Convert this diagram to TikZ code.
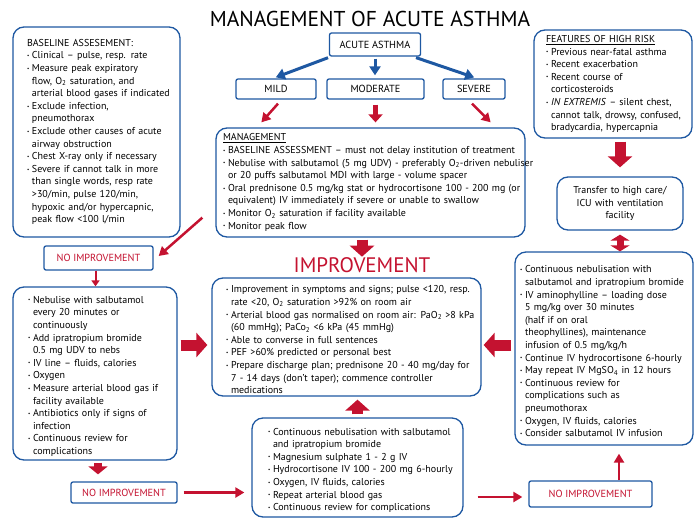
\documentclass[tikz,border=0pt]{standalone}
\usepackage{fontspec}
\setmainfont{PT Sans}
\usepackage{graphicx}
\usetikzlibrary{arrows.meta,positioning,calc}

\definecolor{asblue}{RGB}{30,88,162}
\definecolor{asred}{RGB}{196,18,48}

% bullet item with hanging indent
\newcommand{\itm}{\par\rightskip=-30pt plus 1fil\hangindent=5pt\hangafter=1\noindent\makebox[5pt][l]{\raisebox{0.25ex}{\scalebox{0.5}{\textbullet}}}}

\begin{document}
\begin{tikzpicture}[x=1pt, y=-1pt,
    bigbox/.style={draw=asblue, line width=1.3pt, rounded corners=11pt, fill=white,
                   align=left, font=\fontsize{10}{12.6}\selectfont, inner ysep=0pt},
    smallbox/.style={draw=asblue, line width=1.3pt, rounded corners=2pt, fill=white,
                     align=center, font=\fontsize{10.3}{11}\selectfont, inner sep=0pt},
    noimp/.style={smallbox, text=asred},
    barrow/.style={draw=asblue, line width=3pt, -{Triangle[length=9pt,width=11pt]}},
    rarrow/.style={draw=asred, line width=2.5pt, -{Triangle[length=9pt,width=10pt]}},
    fatarrow/.style={draw=asred, line width=11pt, -{Triangle[length=11pt,width=24pt]}},
  ]
\useasboundingbox (0,0) rectangle (700,525);

% --- title and severity ---
\node[font=\fontsize{21.5}{24}\selectfont] (title) at (370,19) {MANAGEMENT OF ACUTE ASTHMA};

\node[smallbox, minimum width=91pt, minimum height=23pt] (acute) at (375,44.5) {ACUTE ASTHMA};
\node[smallbox, minimum width=80pt, minimum height=20pt] (mild) at (276,89) {MILD};
\node[smallbox, minimum width=97pt, minimum height=20pt] (moderate) at (375.5,89) {MODERATE};
\node[smallbox, minimum width=62pt, minimum height=20pt] (severe) at (474,89) {SEVERE};

% --- baseline (top left) ---
\node[bigbox, minimum width=167pt, minimum height=210pt, text width=139pt, inner xsep=14pt] (baseline) at (96.5,132)
  {BASELINE ASSESEMENT:
   \itm Clinical \textendash\ pulse, resp. rate
   \itm Measure peak expiratory\newline flow, O\textsubscript{2} saturation, and\newline arterial blood gases if indicated
   \itm Exclude infection,\newline pneumothorax
   \itm Exclude other causes of acute\newline airway obstruction
   \itm Chest X-ray only if necessary
   \itm Severe if cannot talk in more\newline than single words, resp rate\newline >30/min, pulse 120/min,\newline hypoxic and/or hypercapnic,\newline peak flow <100 l/min\par};

% --- high risk (top right) ---
\node[bigbox, minimum width=158pt, minimum height=108pt, text width=134pt, inner xsep=12pt] (highrisk) at (613,84)
  {\underline{FEATURES OF HIGH RISK}
   \itm Previous near-fatal asthma
   \itm Recent exacerbation
   \itm Recent course of\newline corticosteroids
   \itm \textit{IN EXTREMIS} \textendash\ silent chest,\newline cannot talk, drowsy, confused,\newline bradycardia, hypercapnia\par};

\node[bigbox, align=center, minimum width=126pt, minimum height=53pt, text width=116pt, inner xsep=5pt] (transfer) at (620,203.5)
  {Transfer to high care/\\ICU with ventilation\\facility};

% --- management ---
\node[bigbox, minimum width=309pt, minimum height=109pt, text width=295pt, inner xsep=7pt] (mgmt) at (370.5,182.5)
  {\underline{MANAGEMENT}
   \itm BASELINE ASSESSMENT \textendash\ must not delay institution of treatment
   \itm Nebulise with salbutamol (5 mg UDV) - preferably O\textsubscript{2}-driven nebuliser\newline or 20 puffs salbutamol MDI with large - volume spacer
   \itm Oral prednisone 0.5 mg/kg stat or hydrocortisone 100 - 200 mg (or\newline equivalent) IV immediately if severe or unable to swallow
   \itm Monitor O\textsubscript{2} saturation if facility available
   \itm Monitor peak flow\par};

% --- no improvement, left column ---
\node[noimp, minimum width=109pt, minimum height=24pt] (noimpA) at (98.5,258) {NO IMPROVEMENT};

\node[bigbox, minimum width=164pt, minimum height=173pt, text width=134pt, inner xsep=15pt] (left) at (95,373.5)
  {\itm Nebulise with salbutamol\newline every 20 minutes or\newline continuously
   \itm Add ipratropium bromide\newline 0.5 mg UDV to nebs
   \itm IV line \textendash\ fluids, calories
   \itm Oxygen
   \itm Measure arterial blood gas if\newline facility available
   \itm Antibiotics only if signs of\newline infection
   \itm Continuous review for\newline complications\par};

\node[noimp, minimum width=106pt, minimum height=21pt] (noimpB) at (124,492.5) {NO IMPROVEMENT};

% --- improvement ---
\node[font=\fontsize{21}{23}\selectfont, text=asred, inner sep=0pt] (imphead) at (362,265.5) {IMPROVEMENT};

\node[bigbox, minimum width=269pt, minimum height=118pt, text width=241pt, inner xsep=14pt] (impbox) at (346.5,337)
  {\itm Improvement in symptoms and signs; pulse <120, resp.\newline rate <20, O\textsubscript{2} saturation >92\% on room air
   \itm Arterial blood gas normalised on room air: PaO\textsubscript{2} >8 kPa\newline (60 mmHg); PaCo\textsubscript{2} <6 kPa (45 mmHg)
   \itm Able to converse in full sentences
   \itm PEF >60\% predicted or personal best
   \itm Prepare discharge plan; prednisone 20 - 40 mg/day for\newline 7 - 14 days (don't taper); commence controller\newline medications\par};

% --- bottom centre ---
\node[bigbox, minimum width=211pt, minimum height=99pt, text width=179pt, inner xsep=16pt] (bottom) at (357.5,467.5)
  {\itm Continuous nebulisation with salbutamol\newline and ipratropium bromide
   \itm Magnesium sulphate 1 - 2 g IV
   \itm Hydrocortisone IV 100 - 200 mg 6-hourly
   \itm Oxygen, IV fluids, calories
   \itm Repeat arterial blood gas
   \itm Continuous review for complications\par};

% --- right column ---
\node[bigbox, minimum width=178pt, minimum height=193pt, text width=168pt, inner xsep=5pt] (right) at (604,348.5)
  {\itm Continuous nebulisation with\newline salbutamol and ipratropium bromide
   \itm IV aminophylline \textendash\ loading dose\newline 5 mg/kg over 30 minutes\newline (half if on oral\newline theophyllines), maintenance\newline infusion of 0.5 mg/kg/h
   \itm Continue IV hydrocortisone 6-hourly
   \itm May repeat IV MgSO\textsubscript{4} in 12 hours
   \itm Continuous review for\newline complications such as\newline pneumothorax
   \itm Oxygen, IV fluids, calories
   \itm Consider salbutamol IV infusion\par};

\node[noimp, minimum width=123pt, minimum height=26pt] (noimpC) at (590.5,494) {NO IMPROVEMENT};

% --- arrows: severity ---
\draw[barrow, shorten <=3pt, shorten >=3pt] ([xshift=2pt]acute.south west) -- ([xshift=-3pt]mild.north);
\draw[barrow, shorten <=2pt, shorten >=3pt] (acute.south) -- (acute.south |- moderate.north);
\draw[barrow, shorten <=3pt, shorten >=3pt] ([xshift=-8pt]acute.south east) -- ([xshift=3pt]severe.north);

% --- arrows: severity to management ---
\draw[rarrow] ([xshift=2pt,yshift=-4pt]mild.south) -- ([xshift=46pt,yshift=5pt]mgmt.north west);
\draw[rarrow, line width=4.5pt, -{Triangle[length=8pt,width=14pt]}, shorten <=5pt, shorten >=5pt] (moderate.south) -- (moderate.south |- mgmt.north);
\draw[rarrow] ([xshift=-2pt,yshift=-4pt]severe.south) -- ([xshift=-35pt,yshift=5pt]mgmt.north east);

% --- arrows: left column ---
\draw[rarrow] ([shift={(-13pt,20pt)}]mgmt.south west) -- ([shift={(5pt,2pt)}]noimpA.east);
\draw[rarrow, line width=2pt, -{Triangle[length=6pt,width=8pt]}] ([xshift=-3pt]noimpA.south) -- ([xshift=-3pt]noimpA.south |- left.north);
\draw[fatarrow, line width=8pt, -{Triangle[length=8pt,width=19pt]}, shorten <=2pt, shorten >=7pt] ([xshift=3pt]left.south) -- ([xshift=3pt]left.south |- noimpB.north);
\draw[rarrow, shorten <=6pt, shorten >=7pt] (noimpB.east) -- (noimpB.east -| bottom.west);

% --- arrows: into improvement ---
\draw[fatarrow, shorten <=2pt, shorten >=1pt] (imphead.north |- mgmt.south) -- (imphead.north);
\draw[fatarrow, shorten <=3pt, shorten >=4pt] ($(impbox.west -| left.east)+(0,8)$) -- ($(impbox.west)+(0,8)$);
\draw[fatarrow, shorten <=3pt, shorten >=2pt] ($(impbox.east -| right.west)+(0,8)$) -- ($(impbox.east)+(0,8)$);
\draw[fatarrow, shorten <=3pt, shorten >=3pt] (bottom.north) -- (bottom.north |- impbox.south);

% --- arrows: bottom and right column ---
\draw[rarrow, shorten <=14pt, shorten >=6pt] ($(noimpC.west -| bottom.east)+(0,3)$) -- ($(noimpC.west)+(0,3)$);
\draw[rarrow, shorten >=8pt] ([xshift=28.5pt]noimpC.north) -- ([xshift=28.5pt]noimpC.north |- right.south);
\draw[fatarrow, shorten <=3pt, shorten >=9pt] (transfer.north |- highrisk.south) -- (transfer.north);
\draw[fatarrow, line width=7pt, {Triangle[length=6pt,width=19pt]}-{Triangle[length=6pt,width=19pt]}, shorten <=4pt] (transfer.south) -- (transfer.south |- right.north);

\end{tikzpicture}
\end{document}
